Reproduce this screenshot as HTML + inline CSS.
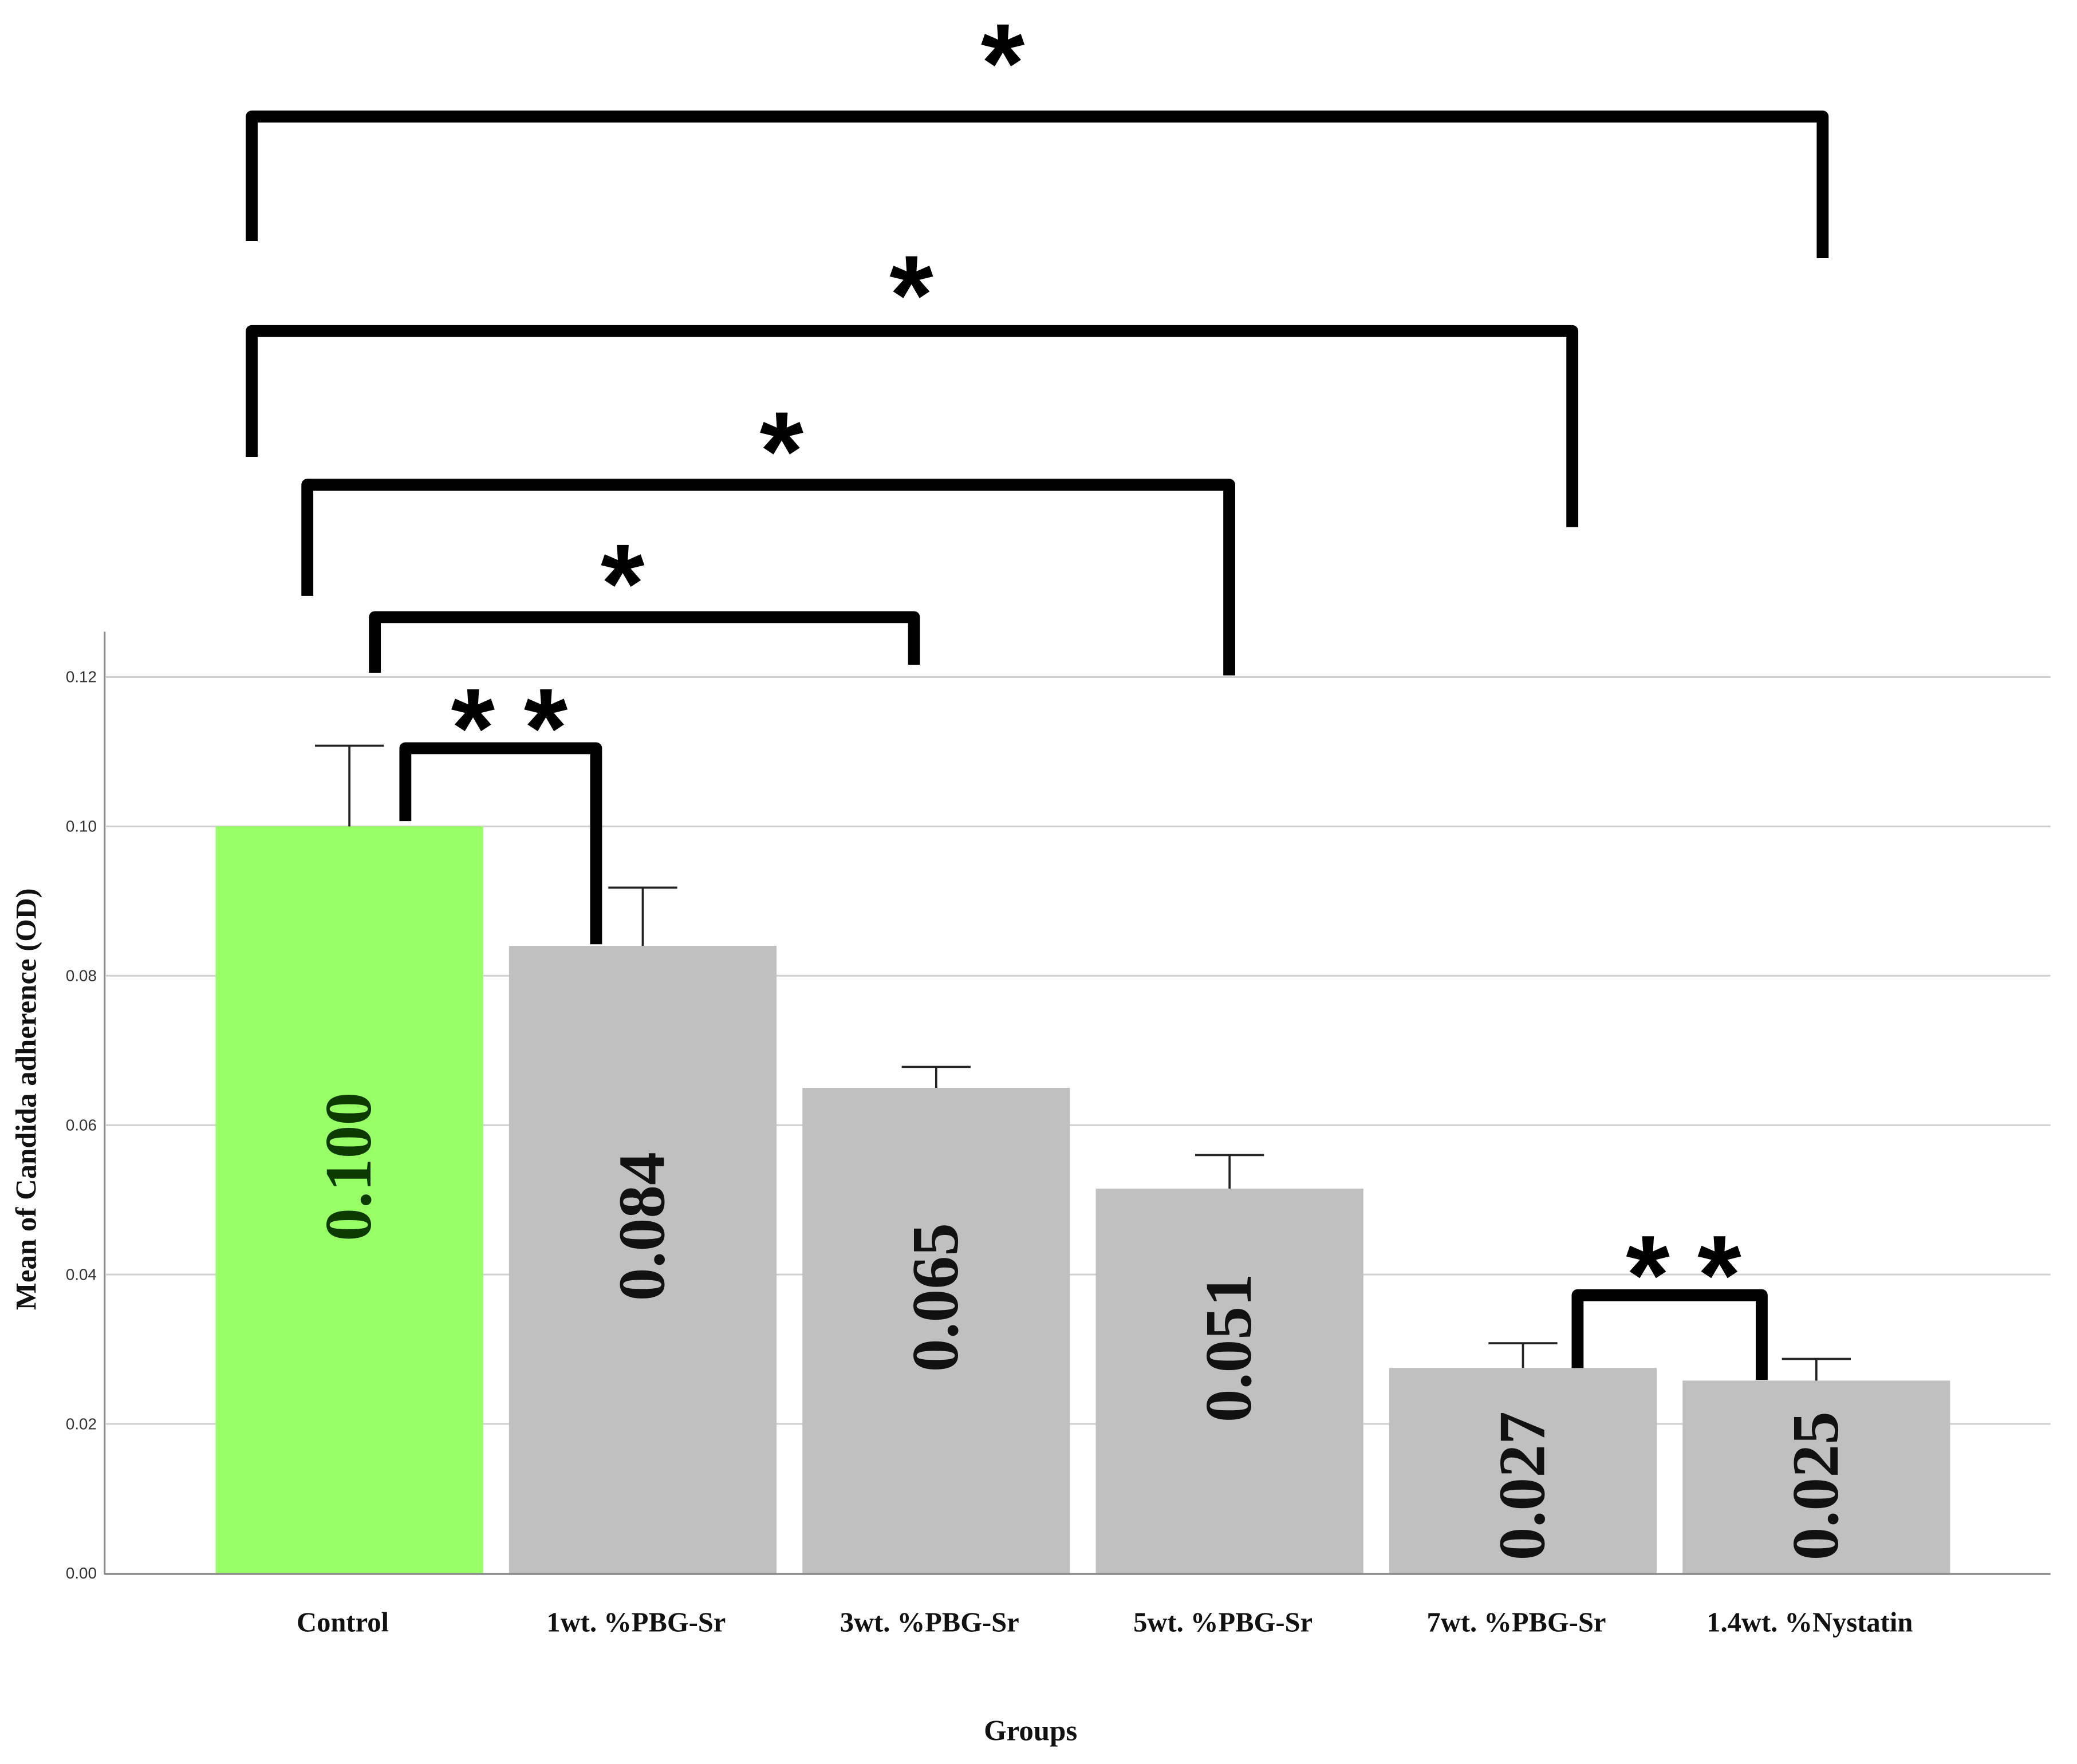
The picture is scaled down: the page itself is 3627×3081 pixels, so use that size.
<!DOCTYPE html>
<html><head><meta charset="utf-8"><style>html,body{margin:0;padding:0;background:#fff}svg{display:block}</style></head>
<body>
<svg id="chart" width="3627" height="3081" viewBox="0 0 1568 1332" xmlns="http://www.w3.org/2000/svg">
<g id="grid"></g>
<g id="bars"></g>
<g id="axes"></g>
<g id="sig"></g>
<text transform="translate(27,830) rotate(-90)" text-anchor="middle" font-family="Liberation Serif, serif" font-weight="bold" font-size="22" fill="#111">Mean of Candida adherence (OD)</text>
<text x="778" y="1314" text-anchor="middle" font-family="Liberation Serif, serif" font-weight="bold" font-size="22" fill="#111">Groups</text>
</svg>
<script>
const categories = ["Control","1wt. %PBG-Sr","3wt. %PBG-Sr","5wt. %PBG-Sr","7wt. %PBG-Sr","1.4wt. %Nystatin"];
const means = [0.100,0.084,0.065,0.0515,0.0275,0.0258];
const errors = [0.0108,0.0078,0.0028,0.0045,0.0033,0.0029];
const valueLabels = ["0.100","0.084","0.065","0.051","0.027","0.025"];
const yTicks = [0,0.02,0.04,0.06,0.08,0.10,0.12];
const yTickLabels = ["0.00","0.02","0.04","0.06","0.08","0.10","0.12"];

const NS="http://www.w3.org/2000/svg";
const y0=1188, pxPerUnit=5640, bandStart=153, bandW=221.5, barW=202;
function yS(v){return y0 - v*pxPerUnit;}
function xC(i){return bandStart + bandW*(i+0.5);}
function mk(tag, attrs, parent){const e=document.createElementNS(NS,tag);for(const k in attrs)e.setAttribute(k,attrs[k]);parent.appendChild(e);return e;}
const grid=document.getElementById('grid'), bars=document.getElementById('bars'), axes=document.getElementById('axes'), sig=document.getElementById('sig');

yTicks.forEach((t,i)=>{
  if(t>0){const g=mk('line',{x1:80,x2:1548,y1:yS(t),y2:yS(t),stroke:'#cfcfcf','stroke-width':1.3},grid);
  
  }
  const tl=mk('text',{x:73,y:yS(t)+4,'text-anchor':'end','font-family':'Liberation Sans, sans-serif','font-size':12,fill:'#333'},axes);
  tl.textContent=yTickLabels[i];
  
  
});
const ya=mk('line',{x1:79,x2:79,y1:477,y2:1189,stroke:'#888','stroke-width':1.3},axes);



categories.forEach((c,i)=>{
  const cx=xC(i), top=yS(means[i]);
  const r=mk('rect',{x:cx-barW/2,y:top,width:barW,height:y0-top,fill:i===0?'#99ff66':'#c0c0c0'},bars);
  
  
  const et=yS(means[i]+errors[i]);
  const e=mk('path',{d:`M${cx} ${top}V${et}M${cx-26} ${et}H${cx+26}`,stroke:'#222','stroke-width':1.6,fill:'none'},bars);
  
  
  const mid=(top+y0)/2;
  const labY = mid>1090 ? 1122 : mid-25;
  const vl=mk('text',{transform:`translate(${cx+16},${labY}) rotate(-90)`,'text-anchor':'middle','font-family':'Liberation Serif, serif','font-weight':'bold','font-size':50,fill:i===0?'#0d3a00':'#111'},bars);
  vl.textContent=valueLabels[i];
  
  
  const xl=mk('text',{x:cx-5,y:1232,'text-anchor':'middle','font-family':'Liberation Serif, serif','font-weight':'bold','font-size':21,fill:'#111'},axes);
  xl.textContent=c;
  
  
});
const xa=mk('line',{x1:79,x2:1548,y1:1188.5,y2:1188.5,stroke:'#888','stroke-width':1.5},axes);



const brackets=[
 [190,1376,88,182,195,[757],35],
 [190,1187,250,345,398,[688],210],
 [232,928,366,450,510,[590],328],
 [283,690,466,508,502,[470],428],
 [306,450,565,620,713,[357,412],537],
 [1191,1330,978,1033,1042,[1244,1298],950]
];
brackets.forEach(b=>{
  const p=mk('path',{d:`M${b[0]} ${b[3]}V${b[2]}H${b[1]}V${b[4]}`,stroke:'#000','stroke-width':9,fill:'none','stroke-linejoin':'round'},sig);
  
  
  b[5].forEach(sx=>{
    const s=mk('text',{x:sx,y:b[6]+42,'text-anchor':'middle','font-family':'Liberation Sans, sans-serif','font-weight':'bold','font-size':85,fill:'#000'},sig);
    s.textContent="*";
    
    
  });
});
</script>
</body></html>
